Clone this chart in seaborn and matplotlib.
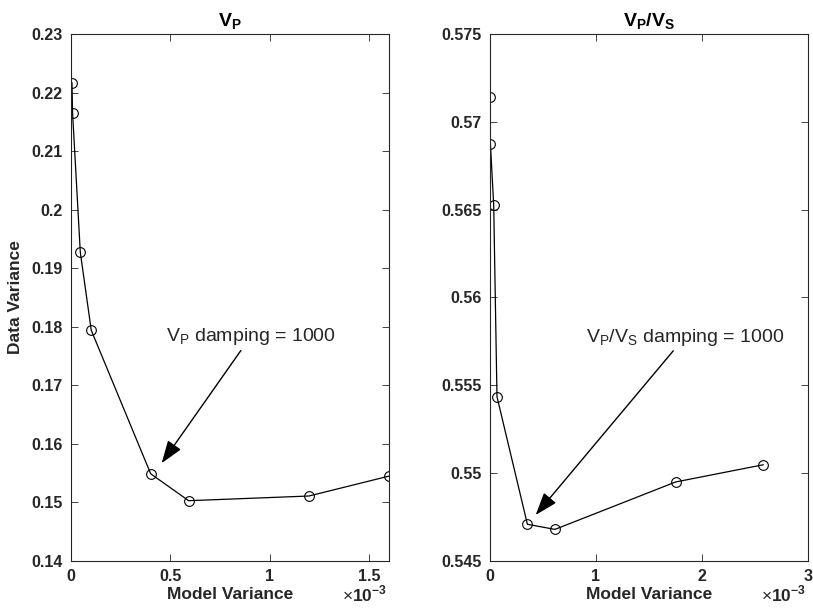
import numpy as np
import pandas as pd
import seaborn as sns
import matplotlib.pyplot as plt
from matplotlib.ticker import FuncFormatter

# data
vp_model = [0.005e-3, 0.008e-3, 0.047e-3, 0.102e-3, 0.401e-3, 0.592e-3, 1.197e-3, 1.600e-3]
vp_data = [0.2217, 0.2165, 0.1927, 0.1794, 0.1549, 0.1503, 0.1511, 0.1545]

vpvs_model = [0.000e-3, 0.004e-3, 0.035e-3, 0.066e-3, 0.353e-3, 0.613e-3, 1.752e-3, 2.579e-3]
vpvs_data = [0.57143, 0.56874, 0.56525, 0.55435, 0.54709, 0.54680, 0.54950, 0.55048]

vp_yticks = [0.14, 0.15, 0.16, 0.17, 0.18, 0.19, 0.2, 0.21, 0.22, 0.23]
vpvs_yticks = [0.545, 0.55, 0.555, 0.56, 0.565, 0.57, 0.575]
vp_xticks = [0, 0.5e-3, 1e-3, 1.5e-3]
vpvs_xticks = [0, 1e-3, 2e-3, 3e-3]

sns.set_style("ticks")
plt.rcParams['font.family'] = ['Liberation Sans', 'DejaVu Sans']
plt.rcParams['mathtext.fontset'] = 'custom'
plt.rcParams['mathtext.rm'] = 'Liberation Sans'
plt.rcParams['mathtext.bf'] = 'Liberation Sans:bold'

dark = '#262626'

fig = plt.figure(figsize=(8.13, 6.10), dpi=100)
ax1 = fig.add_axes([0.0873, 0.0803, 0.3912, 0.864])
ax2 = fig.add_axes([0.6027, 0.0803, 0.3911, 0.864])

df1 = pd.DataFrame({"model": vp_model, "data": vp_data})
df2 = pd.DataFrame({"model": vpvs_model, "data": vpvs_data})

for ax, df in [(ax1, df1), (ax2, df2)]:
    sns.lineplot(data=df, x="model", y="data", ax=ax, sort=False, estimator=None,
                 color="black", linewidth=0.9, marker="o", markersize=7,
                 markerfacecolor="none", markeredgecolor="black", markeredgewidth=0.8)

def style(ax, xlim, ylim, xticks, yticks):
    ax.set_xlim(xlim)
    ax.set_ylim(ylim)
    ax.set_xticks(xticks)
    ax.set_yticks(yticks)
    ax.set_yticklabels(["%g" % t for t in yticks])
    ax.xaxis.set_major_formatter(FuncFormatter(lambda v, p: "%g" % round(v * 1e3, 6)))
    ax.tick_params(direction="in", length=5, width=0.6, top=True, right=True,
                   labelsize=11.5, colors=dark, pad=6)
    for lab in ax.get_xticklabels() + ax.get_yticklabels():
        lab.set_fontweight("bold")
    ax.text(0.995, -0.077, r"$\times\mathbf{10}^{\mathbf{-3}}$", transform=ax.transAxes,
            ha="right", va="baseline", fontsize=12.5, color=dark)
    for sp in ax.spines.values():
        sp.set_visible(True)
        sp.set_linewidth(0.8)
        sp.set_color(dark)
    ax.set_xlabel("Model Variance", fontsize=12.5, fontweight="bold", color=dark, labelpad=2)

style(ax1, (0, 1.6e-3), (0.14, 0.23), vp_xticks, vp_yticks)
style(ax2, (0, 3e-3), (0.545, 0.575), vpvs_xticks, vpvs_yticks)

ax1.set_ylabel("Data Variance", fontsize=12.5, fontweight="bold", color=dark, labelpad=6)
ax2.set_ylabel("")

ax1.set_title(r"$\mathbf{V_P}$", fontsize=14, color="black", pad=6)
ax2.set_title(r"$\mathbf{V_P/V_S}$", fontsize=14, color="black", pad=6)

arrow = dict(arrowstyle="-|>,head_length=1.0,head_width=0.35", color="black",
             linewidth=1.0, shrinkA=0, shrinkB=0)
ax1.annotate(r"V$_\mathregular{P}$ damping = 1000", xy=(0.456e-3, 0.1567),
             xytext=(0.476e-3, 0.1783), fontsize=14, va="center", ha="left",
             arrowprops=arrow)
ax2.annotate(r"V$_\mathregular{P}$/V$_\mathregular{S}$ damping = 1000", xy=(0.431e-3, 0.54762),
             xytext=(0.903e-3, 0.55775), fontsize=14, va="center", ha="left",
             arrowprops=arrow)

fig.savefig("out.png", dpi=100)
